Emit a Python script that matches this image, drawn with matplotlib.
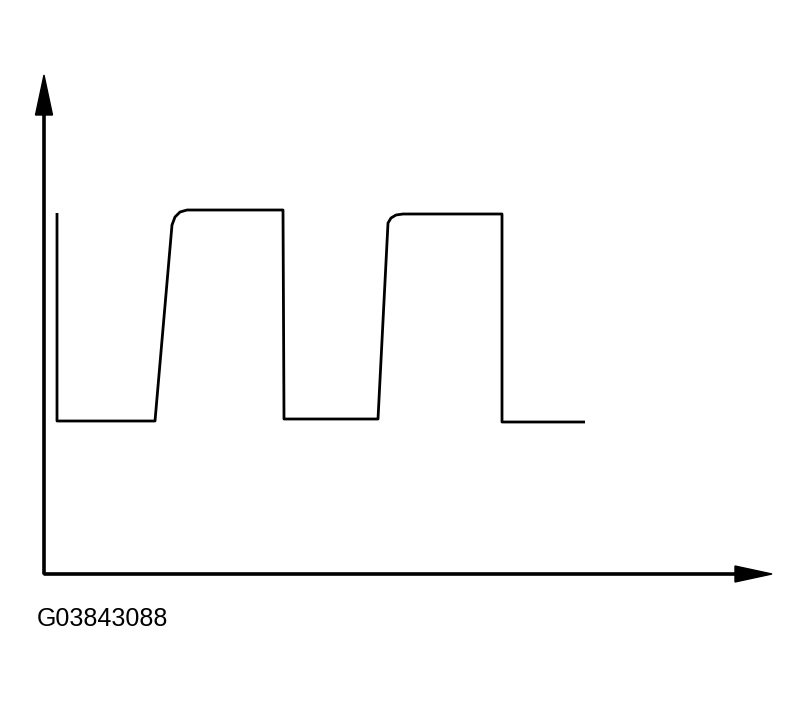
import matplotlib
matplotlib.use("Agg")
import matplotlib.pyplot as plt
from matplotlib import font_manager

# waveform (time, level), origin at the axis corner
t = [13, 13, 111, 128, 131, 136, 143, 239, 240, 334, 344, 347, 352, 359, 458, 458, 541]
v = [361, 153, 153, 349, 357, 362, 364, 364, 155, 155, 351, 356, 359, 360, 360, 152, 152]

x_axis_len = 728
y_axis_len = 499
label = "G03843088"

fig = plt.figure(figsize=(8.1, 7.02), dpi=100)
ax = fig.add_axes([0, 0, 1, 1])
ax.set_xlim(-44, 810 - 44)
ax.set_ylim(-(702 - 574), 574)
ax.axis("off")

ax.plot(t, v, color="black", linewidth=2.0, solid_joinstyle="round",
        solid_capstyle="butt")

# axes with arrowheads
ax.arrow(0, 0, 0, y_axis_len, width=2.2, head_width=17, head_length=40,
         length_includes_head=True, color="black")
ax.arrow(0, 0, x_axis_len, 0, width=2.2, head_width=16, head_length=37,
         length_includes_head=True, color="black")

names = {f.name for f in font_manager.fontManager.ttflist}
family = "Liberation Sans Narrow" if "Liberation Sans Narrow" in names else "Liberation Sans"
ax.text(-7, -45, label, fontsize=21 if family.endswith("Narrow") else 18,
        family=family, ha="left", va="center", color="black")

fig.savefig("out.png", dpi=100, facecolor="white")
